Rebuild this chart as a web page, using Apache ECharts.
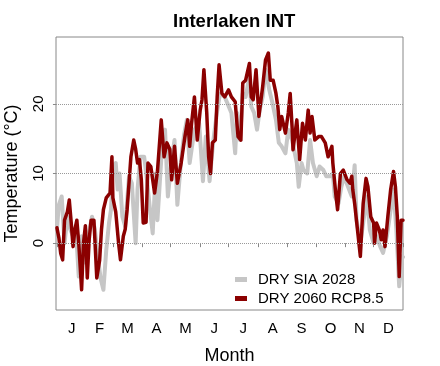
<!DOCTYPE html>
<html>
<head>
<meta charset="utf-8">
<script src="https://cdn.jsdelivr.net/npm/echarts@6/dist/echarts.min.js"></script>
<style>html,body{margin:0;padding:0;background:#fff}#c{width:440px;height:366px}</style>
</head>
<body>
<div id="c"></div>
<script>
var monthStarts = [0,31,59,90,120,151,181,212,243,273,304,334,365];
var monthMids = [15.5,45,74.5,105,135.5,166,196.5,227.5,258,288.5,319,349.5];
var monthLabels = ['J','F','M','A','M','J','J','A','S','O','N','D'];
var yTicks = [0,10,20];

var daysSIA = [0,2,5,8,11,14,17,20,23,26,30,33,37,40,43,46,49,52,55,57,59,62,64,66,69,72,76,79,83,85,88,92,95,98,101,104,106,110,114,117,121,124,127,131,134,137,140,145,150,154,157,161,165,169,172,177,180,184,188,190,193,196,199,203,205,208,211,214,217,220,224,227,231,234,237,241,244,248,253,255,258,260,264,267,270,274,277,281,284,288,291,293,297,300,303,307,311,314,316,320,323,327,330,334,337,341,344,348,351,355,358,361,364,365];
var tempSIA = [2,5.5,6.7,0,3.8,2,1,2,-4.8,1,-2.8,1,3.8,2,-1.9,-5,-6.7,-1,3,4.8,11,11.5,7.7,10,3.8,2.4,9.6,8.6,0,7.7,12.4,12.4,9,5,1.4,10,3.3,12,16.3,6.7,12,14.8,5.5,12,15.5,17.7,11.5,16.3,17.2,8.9,15.3,8.9,14.8,19,21.5,21,20,18.7,12.9,18.7,14.8,21.5,21,23.9,19.6,18.7,16.3,19.2,21,24.9,22,20.3,17.7,14.4,13.9,12.9,16.3,14.8,11.5,8.1,11.5,10.5,10,14.8,11.5,9.6,11,10.5,9.6,9.6,10,6.7,5.7,8.1,9.6,8.1,6.7,11.2,3.3,0,2.9,6.7,1.9,0,1,-0.5,-1.4,1,3.8,7.7,1.9,-6.2,-1.9,-2];

var daysRCP = [0,2,4,6,8,11,13,15,17,19,21,23,26,28,30,32,34,36,39,42,45,47,49,52,56,58,59,62,65,67,70,72,74,78,81,83,85,87,89,91,94,96,99,103,106,110,113,116,119,121,124,127,131,135,138,140,142,145,148,151,153,155,158,160,162,164,167,169,171,174,177,181,184,188,191,194,196,199,203,205,207,210,213,217,220,223,225,228,231,233,235,237,241,244,246,248,249,253,256,259,262,265,267,269,272,276,279,283,286,290,291,294,296,299,302,306,309,311,312,314,317,320,323,326,328,331,334,335,337,340,342,344,346,349,352,355,357,359,361,363,365];
var tempRCP = [2.2,0.8,-1.5,-2.4,3.3,4.5,6.2,3,-0.5,2,3.3,0,-6.7,0,2.5,-5,0.5,3.3,3.3,-5,-2.5,2,4.8,6.5,7.2,12.4,6.5,4.5,0,-2.4,1,2,4.8,12.4,14.8,13.5,11.5,12,9.1,2.9,3,11.5,11,7.2,10.3,17.7,12.4,14.4,13.5,9.1,13.9,8.6,11.5,15.3,17.7,13.9,17.2,21,14.8,19,20.6,24.9,18.7,12.4,10,14.4,14.8,21,25.6,21.5,21,22,21,20.3,15.3,14.8,23,23.4,25.8,21,20.6,24.9,18.2,22.5,26.3,27.3,23.4,23.4,21.5,19.6,16.3,18.2,15.8,18.7,21.5,16.7,13.4,17.7,12,17.2,14.8,19.1,15.8,18.2,14.8,15.3,15.3,14.4,12.4,13.9,11.5,7.2,4.8,10,10.5,9.1,8.6,9.6,7.7,5.7,1.9,-1.9,5.7,9.3,8.1,3.8,2.9,0,2.9,1.9,0.5,1.9,-0.5,3.8,7.7,10.3,8.1,3.8,-4.8,3.3,3.3];

function zip(d, v) { return d.map(function (x, i) { return [x, v[i]]; }); }

var FONT = "'Liberation Sans', Arial, Helvetica, sans-serif";
var chart = echarts.init(document.getElementById('c'), null, {renderer: 'canvas'});
chart.setOption({
  animation: false,
  backgroundColor: '#fff',
  title: {
    text: 'Interlaken INT',
    left: 168, top: 7,
    textStyle: {fontFamily: FONT, fontSize: 18.5, fontWeight: 'bold', color: '#000'}
  },
  grid: {left: 56, right: 37, top: 37, bottom: 56, show: true, borderColor: '#888', borderWidth: 1, backgroundColor: 'transparent', containLabel: false, outerBoundsMode: 'none'},
  legend: {
    orient: 'vertical', left: 235, top: 272, padding: 0, itemGap: 4,
    itemWidth: 12, itemHeight: 5, icon: 'rect',
    textStyle: {fontFamily: FONT, fontSize: 15, color: '#000', lineHeight: 15, padding: [0,0,0,6]},
    data: ['DRY SIA 2028', 'DRY 2060 RCP8.5']
  },
  xAxis: {
    type: 'value', min: -1, max: 365,
    name: 'Month', nameLocation: 'middle', nameGap: 37,
    nameTextStyle: {fontFamily: FONT, fontSize: 18, color: '#000'},
    axisLine: {show: false},
    splitLine: {show: false},
    axisTick: {show: true, inside: false, length: 4, customValues: monthStarts, lineStyle: {color: '#888'}},
    axisLabel: {
      customValues: monthMids, margin: 11,
      fontFamily: FONT, fontSize: 15, color: '#000',
      formatter: function (v) { var i = monthMids.indexOf(v); return i >= 0 ? monthLabels[i] : ''; }
    }
  },
  yAxis: {
    type: 'value', min: -9.6, max: 29.6,
    name: 'Temperature (°C)', nameLocation: 'middle', nameGap: 35, nameRotate: 90,
    nameTextStyle: {fontFamily: FONT, fontSize: 18, color: '#000'},
    axisLine: {show: false},
    splitLine: {show: false},
    axisTick: {show: true, inside: false, length: 4, customValues: yTicks, lineStyle: {color: '#888'}},
    axisLabel: {customValues: yTicks, rotate: 90, margin: 10, fontFamily: FONT, fontSize: 15, color: '#000'}
  },
  series: [
    {
      name: 'DRY SIA 2028', type: 'line', data: zip(daysSIA, tempSIA),
      showSymbol: false, color: '#c6c6c6',
      lineStyle: {width: 4, color: '#c6c6c6', cap: 'round', join: 'round'},
      markLine: {
        silent: true, symbol: 'none', label: {show: false},
        lineStyle: {type: 'dotted', color: '#999', width: 1},
        data: yTicks.map(function (t) { return {yAxis: t}; })
      },
      z: 2
    },
    {
      name: 'DRY 2060 RCP8.5', type: 'line', data: zip(daysRCP, tempRCP),
      showSymbol: false, color: '#8b0000',
      lineStyle: {width: 3.5, color: '#8b0000', cap: 'round', join: 'round'},
      z: 3
    }
  ]
});
</script>
</body>
</html>
